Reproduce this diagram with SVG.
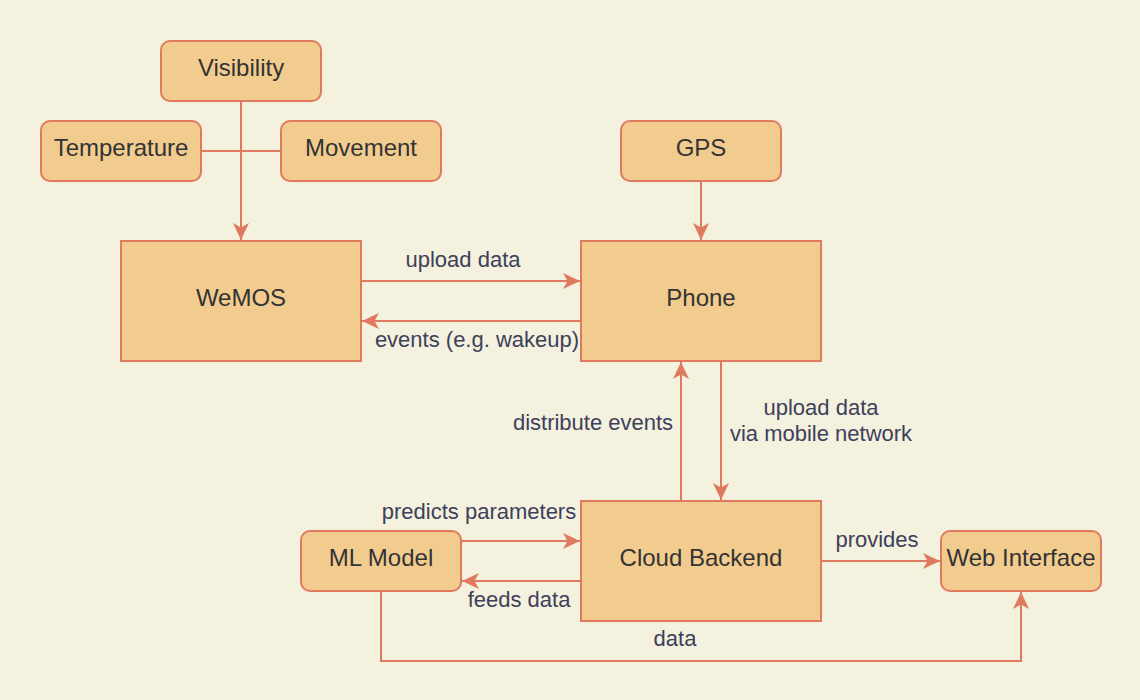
<svg xmlns="http://www.w3.org/2000/svg" width="1140" height="700" viewBox="0 0 1140 700">
<defs>
<style>
.n{fill:#F2CC8F;stroke:#E07A5F;stroke-width:2}
.t{font-family:"Liberation Sans",Arial,sans-serif;font-size:24px;fill:#333333;text-anchor:middle}
.l{font-family:"Liberation Sans",Arial,sans-serif;font-size:22px;fill:#3D405B;text-anchor:middle}
.e{fill:none;stroke:#E07A5F;stroke-width:2}
</style>
<marker id="a" markerUnits="userSpaceOnUse" markerWidth="18" markerHeight="17" refX="17" refY="8" orient="auto" viewBox="0 0 18 17">
<path d="M0,0 L17,8 L0,16 L4.5,8 Z" fill="#E07A5F"/>
</marker>
</defs>
<rect width="1140" height="700" fill="#F4F1DE"/>
<g id="edges">
<path class="e" d="M241,101 V240" marker-end="url(#a)"/>
<path class="e" d="M201,151 H281"/>
<path class="e" d="M701,181 V240" marker-end="url(#a)"/>
<path class="e" d="M361,281 H580" marker-end="url(#a)"/>
<path class="e" d="M581,321 H362" marker-end="url(#a)"/>
<path class="e" d="M721,361 V500" marker-end="url(#a)"/>
<path class="e" d="M681,501 V362" marker-end="url(#a)"/>
<path class="e" d="M461,541 H580" marker-end="url(#a)"/>
<path class="e" d="M581,581 H462" marker-end="url(#a)"/>
<path class="e" d="M821,561 H940" marker-end="url(#a)"/>
<path class="e" d="M381,591 V661 H1021 V592" marker-end="url(#a)"/>
<text class="l" x="463" y="267">upload data</text>
<text class="l" x="477" y="347">events (e.g. wakeup)</text>
<text class="l" x="821" y="415">upload data</text>
<text class="l" x="821" y="441">via mobile network</text>
<text class="l" x="593" y="430">distribute events</text>
<text class="l" x="479" y="519">predicts parameters</text>
<text class="l" x="519" y="607">feeds data</text>
<text class="l" x="877" y="547">provides</text>
<text class="l" x="675" y="646">data</text>
</g>
<g id="visibility"><rect class="n" x="161" y="41" width="160" height="60" rx="9"/><text class="t" x="241" y="76">Visibility</text></g>
<g id="temperature"><rect class="n" x="41" y="121" width="160" height="60" rx="9"/><text class="t" x="121" y="156">Temperature</text></g>
<g id="movement"><rect class="n" x="281" y="121" width="160" height="60" rx="9"/><text class="t" x="361" y="156">Movement</text></g>
<g id="gps"><rect class="n" x="621" y="121" width="160" height="60" rx="9"/><text class="t" x="701" y="156">GPS</text></g>
<g id="wemos"><rect class="n" x="121" y="241" width="240" height="120"/><text class="t" x="241" y="306">WeMOS</text></g>
<g id="phone"><rect class="n" x="581" y="241" width="240" height="120"/><text class="t" x="701" y="306">Phone</text></g>
<g id="cloud"><rect class="n" x="581" y="501" width="240" height="120"/><text class="t" x="701" y="566">Cloud Backend</text></g>
<g id="ml"><rect class="n" x="301" y="531" width="160" height="60" rx="9"/><text class="t" x="381" y="566">ML Model</text></g>
<g id="web"><rect class="n" x="941" y="531" width="160" height="60" rx="9"/><text class="t" x="1021" y="566">Web Interface</text></g>
</svg>
